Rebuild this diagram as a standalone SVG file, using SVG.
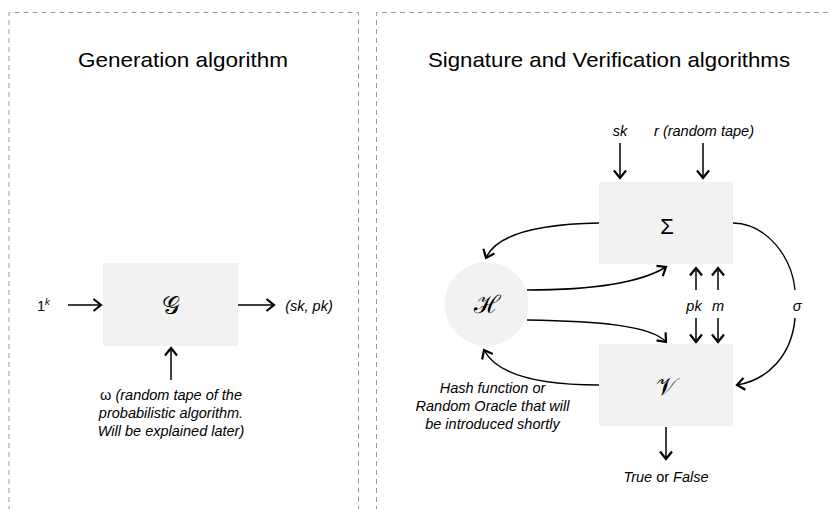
<svg xmlns="http://www.w3.org/2000/svg" width="830" height="509" viewBox="0 0 830 509">
  <style>
    .panel { fill: none; stroke: #9a9a9a; stroke-width: 1; stroke-dasharray: 5 4; }
    .title { font-family: "Liberation Sans", "Open Sans", sans-serif; font-size: 21px; fill: #000; text-anchor: middle; }
    .lbl { font-family: "Liberation Sans", "Open Sans", sans-serif; font-size: 14.5px; font-style: italic; fill: #000; text-anchor: middle; }
    .up { font-style: normal; }
    .box { fill: #f2f2f2; }
    .sym { font-family: "DejaVu Serif", "Liberation Serif", serif; font-size: 25px; fill: #000; text-anchor: middle; dominant-baseline: central; }
    .sigma { font-family: "Liberation Sans", sans-serif; font-size: 22px; }
    .edge { fill: none; stroke: #000; stroke-width: 1.5; marker-end: url(#arrow); }
    .plain { fill: none; stroke: #000; stroke-width: 1.3; }
  </style>
  <defs>
    <marker id="arrow" markerUnits="userSpaceOnUse" markerWidth="16" markerHeight="16" refX="0" refY="0" viewBox="-9 -8 11 16" orient="auto">
      <path d="M-7.5,-6 L0,0 L-7.5,6" fill="none" stroke="#000" stroke-width="2.2"/>
    </marker>
  </defs>
  <rect width="830" height="509" fill="#fff"/>

  <!-- panel frames -->
  <path class="panel" d="M9,520 L9,12.5 L358.5,12.5 L358.5,520"/>
  <path class="panel" d="M376.5,520 L376.5,12.5 L840,12.5"/>

  <text class="title" x="183" y="67" textLength="210" lengthAdjust="spacingAndGlyphs">Generation algorithm</text>
  <text class="title" x="609" y="67" textLength="362" lengthAdjust="spacingAndGlyphs">Signature and Verification algorithms</text>

  <!-- key generation -->
  <g id="node-G">
    <rect class="box" x="103" y="263" width="135" height="83"/>
    <text class="sym" x="171" y="305">𝒢</text>
  </g>
  <g id="label-1k">
    <text x="37" y="311" font-family="Liberation Sans, sans-serif" font-size="14.5" fill="#000">1<tspan font-size="9.5" font-style="italic" dy="-6">k</tspan></text>
  </g>
  <g id="label-keys">
    <text class="lbl" x="309" y="311">(sk, pk)</text>
  </g>
  <g id="label-omega">
    <text class="lbl" x="171" y="400"><tspan class="up">ω</tspan> (random tape of the</text>
    <text class="lbl" x="171" y="418">probabilistic algorithm.</text>
    <text class="lbl" x="171" y="436">Will be explained later)</text>
  </g>

  <!-- signature / verification -->
  <g id="node-Sigma">
    <rect class="box" x="599" y="182" width="134" height="82"/>
    <text class="sym sigma" x="667" y="226">Σ</text>
  </g>
  <g id="node-V">
    <rect class="box" x="599" y="344" width="134" height="82"/>
    <text class="sym" x="666" y="386">𝒱</text>
  </g>
  <g id="node-H">
    <circle class="box" cx="486.5" cy="304" r="42"/>
    <text class="sym" x="486.5" y="304">ℋ</text>
  </g>

  <g id="labels-right">
    <text class="lbl" x="620" y="136">sk</text>
    <text class="lbl" x="704" y="136">r (random tape)</text>
    <text class="lbl" x="694" y="311">pk</text>
    <text class="lbl" x="718" y="311">m</text>
    <text class="lbl" x="797" y="311">σ</text>
    <text class="lbl" x="492.5" y="393">Hash function or</text>
    <text class="lbl" x="492.5" y="411">Random Oracle that will</text>
    <text class="lbl" x="492.5" y="429">be introduced shortly</text>
    <text class="lbl" x="666" y="482">True <tspan class="up">or</tspan> False</text>
  </g>

  <g id="connectors">
    <path class="edge" d="M68,305 L101,305"/>
    <path class="edge" d="M238,305 L274,305"/>
    <path class="edge" d="M171,380 L171,348"/>

    <path class="edge" d="M620,143 L620,178"/>
    <path class="edge" d="M703,143 L703,178"/>

    <path class="edge" d="M599,223 C545,224 497,232 486,258"/>
    <path class="edge" d="M527,290 C590,290 640,283 666,267"/>
    <path class="edge" d="M527,320 C600,321 652,326 666,342"/>
    <path class="edge" d="M599,385 C540,385 497,375 484,350"/>

    <path class="edge" d="M696,290 L696,268"/>
    <path class="edge" d="M718,290 L718,268"/>
    <path class="edge" d="M696,318 L696,342"/>
    <path class="edge" d="M718,318 L718,342"/>

    <path class="plain" d="M733,223 C768,224 792,258 795,290"/>
    <path class="edge" d="M795,318 C792,355 768,380 737,385"/>

    <path class="edge" d="M666,427 L666,459"/>
  </g>
</svg>
